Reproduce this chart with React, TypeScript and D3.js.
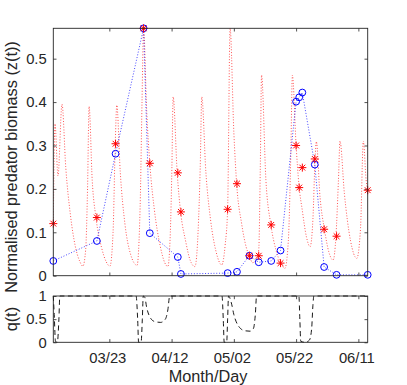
import React, { useEffect, useRef } from 'react';
import * as d3 from 'd3';

// observation times, in days since 03/05
const obsDays = [0, 14, 20, 29, 31, 40, 41, 56, 59, 63, 66, 70, 73, 78, 79, 80, 84, 87, 91, 101];
// blue circles (observed)
const obsCircle = [0.034, 0.08, 0.281, 0.57, 0.098, 0.043, 0.004, 0.006, 0.009, 0.046, 0.031, 0.034, 0.058, 0.401, 0.411, 0.422, 0.256, 0.02, 0.002, 0.002];
// red asterisks
const obsStar = [0.12, 0.134, 0.304, 0.57, 0.259, 0.237, 0.147, 0.153, 0.212, 0.046, 0.046, 0.117, 0.029, 0.30, 0.203, 0.249, 0.269, 0.107, 0.091, 0.197];

// model trajectory (red dotted)
const modelDays = [0, 0.55, 1.5, 2.8, 4, 5.5, 7, 8.5, 9.5, 10.4, 11, 11.5, 12.5, 13.7, 15.5, 17, 18.2, 19.2, 19.9, 20.4,
  21.5, 23, 24.8, 26.9, 27.9, 28.5, 29, 30, 31, 32.5, 34.3, 35.8, 36.8, 37.6, 38.1, 38.5, 39.8, 40.9, 42.5, 44,
  45.5, 46.5, 47.2, 47.7, 49, 50.5, 52.3, 54.1, 55.2, 56, 56.8, 58, 58.9, 60.5, 62, 63, 64, 65.2, 66, 66.5,
  66.9, 68.3, 69.9, 71.5, 73, 74.4, 75.5, 76.3, 76.8, 78, 78.9, 80, 81.3, 82.5, 83.4, 84.1, 84.5, 85.7, 87.1, 88.5,
  89.9, 90.8, 91.6, 92.1, 93.5, 95.5, 97.5, 98.7, 99.6, 100.5, 101];
const modelVals = [0.12, 0.35, 0.23, 0.395, 0.25, 0.14, 0.07, 0.033, 0.022, 0.06, 0.2, 0.39, 0.22, 0.134, 0.065, 0.032, 0.022, 0.1, 0.304, 0.393,
  0.24, 0.12, 0.05, 0.024, 0.16, 0.4, 0.57, 0.38, 0.259, 0.15, 0.07, 0.03, 0.021, 0.1, 0.25, 0.412, 0.237, 0.147, 0.08, 0.035,
  0.021, 0.1, 0.25, 0.412, 0.24, 0.13, 0.055, 0.025, 0.07, 0.153, 0.57, 0.33, 0.212, 0.12, 0.065, 0.046, 0.03, 0.036, 0.06, 0.25,
  0.462, 0.22, 0.117, 0.06, 0.03, 0.017, 0.08, 0.28, 0.462, 0.30, 0.21, 0.15, 0.09, 0.067, 0.13, 0.269, 0.309, 0.18, 0.107, 0.055,
  0.036, 0.091, 0.22, 0.31, 0.19, 0.08, 0.04, 0.11, 0.31, 0.22, 0.197];

// q(t) (black dashed)
const qDays = [0, 0.3, 0.7, 1.3, 1.8, 2.1, 26.6, 27.1, 27.4, 28.2, 28.6, 28.9, 29.4, 30, 31, 32.5, 34.5, 36, 36.8, 37.4,
  54.2, 54.6, 54.9, 55.7, 56, 56.3, 57.2, 58, 59.5, 61.5, 63.2, 64.3, 64.9, 65.3, 78.9, 79.2, 79.5, 81, 82.3, 83, 83.4, 83.7, 101];
const qVals = [1, 0.6, 0.02, 0, 0.5, 1, 1, 0.5, 0, 0, 0.5, 1, 0.97, 0.75, 0.55, 0.45, 0.43, 0.5, 0.7, 1,
  1, 0.5, 0, 0, 0.5, 1, 0.85, 0.6, 0.35, 0.25, 0.24, 0.3, 0.6, 1, 1, 0.5, 0.02, 0, 0.05, 0.3, 0.8, 1, 1];

const tickLabels = ['03/23', '04/12', '05/02', '05/22', '06/11'];
const zTicks = [0, 0.1, 0.2, 0.3, 0.4, 0.5];
const qTicks = [0, 0.5, 1];

const YEAR = 2018;
const START = new Date(YEAR, 2, 5);
const dayToDate = (d: number) => new Date(START.getTime() + d * 864e5);
const FONT = 'Liberation Sans, Arial, Helvetica, sans-serif';
const AX = '#262626';

export default function App() {
  const ref = useRef<SVGSVGElement>(null);

  useEffect(() => {
    const svg = d3.select(ref.current);
    svg.selectAll('*').remove();

    const left = 53.3, right = 367.7;
    const top1 = 28.3, bot1 = 275.7;
    const top2 = 296, bot2 = 342.3;

    const x = d3.scaleTime().domain([dayToDate(0), dayToDate(101)]).range([left, right]);
    const y = d3.scaleLinear().domain([0, 0.57]).range([bot1, top1]);
    const yq = d3.scaleLinear().domain([0, 1]).range([bot2, top2]);

    const parse = d3.timeParse('%m/%d');
    const tickDates = tickLabels.map(s => {
      const p = parse(s) as Date;
      return new Date(YEAR, p.getMonth(), p.getDate());
    });

    const styleAxis = (g: any, fs = 14.8) => {
      g.select('.domain').remove();
      g.attr('font-family', FONT).attr('font-size', fs);
      g.selectAll('.tick line').attr('stroke', AX).attr('stroke-width', 0.8);
      g.selectAll('.tick text').attr('fill', AX);
    };

    // ---- main axes ----
    svg.append('defs').append('clipPath').attr('id', 'clipMain')
      .append('rect').attr('x', left).attr('y', top1 - 0.5).attr('width', right - left).attr('height', bot1 - top1 + 1);

    svg.append('g').attr('transform', `translate(${left},0)`)
      .call(d3.axisLeft(y).tickValues(zTicks).tickSizeInner(-3.2).tickSizeOuter(0).tickPadding(6.6).tickFormat((d: any) => String(d)))
      .call(styleAxis);
    svg.append('g').attr('transform', `translate(${right},0)`)
      .call(d3.axisRight(y).tickValues(zTicks).tickSizeInner(-3.2).tickSizeOuter(0).tickFormat(() => ''))
      .call(styleAxis);
    svg.append('g').attr('transform', `translate(0,${top1})`)
      .call(d3.axisTop(x).tickValues(tickDates).tickSizeInner(-3.2).tickSizeOuter(0).tickFormat(() => ''))
      .call(styleAxis);
    svg.append('g').attr('transform', `translate(0,${bot1})`)
      .call(d3.axisBottom(x).tickValues(tickDates).tickSizeInner(-3.2).tickSizeOuter(0).tickFormat(() => ''))
      .call(styleAxis);

    const model = modelDays.map((d, i) => [d, modelVals[i]] as [number, number]);
    const lineM = d3.line<[number, number]>()
      .x(d => x(dayToDate(d[0])))
      .y(d => y(d[1]))
      .curve(d3.curveMonotoneX);
    svg.append('path')
      .attr('clip-path', 'url(#clipMain)')
      .attr('d', lineM(model))
      .attr('fill', 'none')
      .attr('stroke', '#ff0000')
      .attr('stroke-opacity', 0.75)
      .attr('stroke-width', 0.9)
      .attr('stroke-dasharray', '1 1.8');

    const obs = obsDays.map((d, i) => [d, obsCircle[i]] as [number, number]);
    const lineO = d3.line<[number, number]>().x(d => x(dayToDate(d[0]))).y(d => y(d[1]));
    svg.append('path')
      .attr('d', lineO(obs))
      .attr('fill', 'none')
      .attr('stroke', '#0000ff')
      .attr('stroke-opacity', 0.8)
      .attr('stroke-width', 0.9)
      .attr('stroke-dasharray', '1 1.8');
    svg.append('g').selectAll('circle')
      .data(obs)
      .join('circle')
      .attr('cx', d => x(dayToDate(d[0])))
      .attr('cy', d => y(d[1]))
      .attr('r', 3.4)
      .attr('fill', 'none')
      .attr('stroke', '#0000ff')
      .attr('stroke-width', 1);

    const s = 4, t = 2.9;
    const star = `M${-s},0H${s}M0,${-s}V${s}M${-t},${-t}L${t},${t}M${-t},${t}L${t},${-t}`;
    svg.append('g').selectAll('path')
      .data(obsDays.map((d, i) => [d, obsStar[i]]))
      .join('path')
      .attr('transform', d => `translate(${x(dayToDate(d[0]))},${y(d[1])})`)
      .attr('d', star)
      .attr('fill', 'none')
      .attr('stroke', '#ff0000')
      .attr('stroke-width', 1);

    svg.append('rect')
      .attr('x', left).attr('y', top1).attr('width', right - left).attr('height', bot1 - top1)
      .attr('fill', 'none').attr('stroke', AX).attr('stroke-width', 0.9);

    svg.append('text')
      .attr('transform', `translate(17,167) rotate(-90)`)
      .attr('text-anchor', 'middle')
      .attr('font-family', FONT).attr('font-size', 16.3).attr('fill', AX)
      .text('Normalised predator biomass (z(t))');

    // ---- q(t) axes ----
    svg.append('g').attr('transform', `translate(${left},0)`)
      .call(d3.axisLeft(yq).tickValues(qTicks).tickSizeInner(-3.2).tickSizeOuter(0).tickPadding(6.6).tickFormat((d: any) => String(d)))
      .call(styleAxis);
    svg.append('g').attr('transform', `translate(${right},0)`)
      .call(d3.axisRight(yq).tickValues(qTicks).tickSizeInner(-3.2).tickSizeOuter(0).tickFormat(() => ''))
      .call(styleAxis);
    svg.append('g').attr('transform', `translate(0,${top2})`)
      .call(d3.axisTop(x).tickValues(tickDates).tickSizeInner(-3.2).tickSizeOuter(0).tickFormat(() => ''))
      .call(styleAxis);
    const bx = svg.append('g').attr('transform', `translate(0,${bot2})`)
      .call(d3.axisBottom(x).tickValues(tickDates).tickSizeInner(-3.2).tickSizeOuter(0).tickPadding(10.5)
        .tickFormat((d: any, i: number) => tickLabels[i]))
      .call(styleAxis);
    bx.selectAll('.tick text').attr('x', -2);

    const qData = qDays.map((d, i) => [d, qVals[i]] as [number, number]);
    const lineQ = d3.line<[number, number]>()
      .x(d => x(dayToDate(d[0])))
      .y(d => yq(d[1]))
      .curve(d3.curveMonotoneX);
    svg.append('path')
      .attr('d', lineQ(qData))
      .attr('fill', 'none')
      .attr('stroke', '#000')
      .attr('stroke-width', 0.9)
      .attr('stroke-dasharray', '5 3.5');

    svg.append('rect')
      .attr('x', left).attr('y', top2).attr('width', right - left).attr('height', bot2 - top2)
      .attr('fill', 'none').attr('stroke', AX).attr('stroke-width', 0.9);

    svg.append('text')
      .attr('transform', `translate(17,${(top2 + bot2) / 2}) rotate(-90)`)
      .attr('text-anchor', 'middle')
      .attr('font-family', FONT).attr('font-size', 16.3).attr('fill', AX)
      .text('q(t)');

    svg.append('text')
      .attr('x', 208).attr('y', 381.5)
      .attr('text-anchor', 'middle')
      .attr('font-family', FONT).attr('font-size', 16.3).attr('fill', AX)
      .text('Month/Day');
  }, []);

  return <svg ref={ref} width={407} height={385} style={{ position: 'absolute', left: 0, top: 0, background: '#fff' }} />;
}
